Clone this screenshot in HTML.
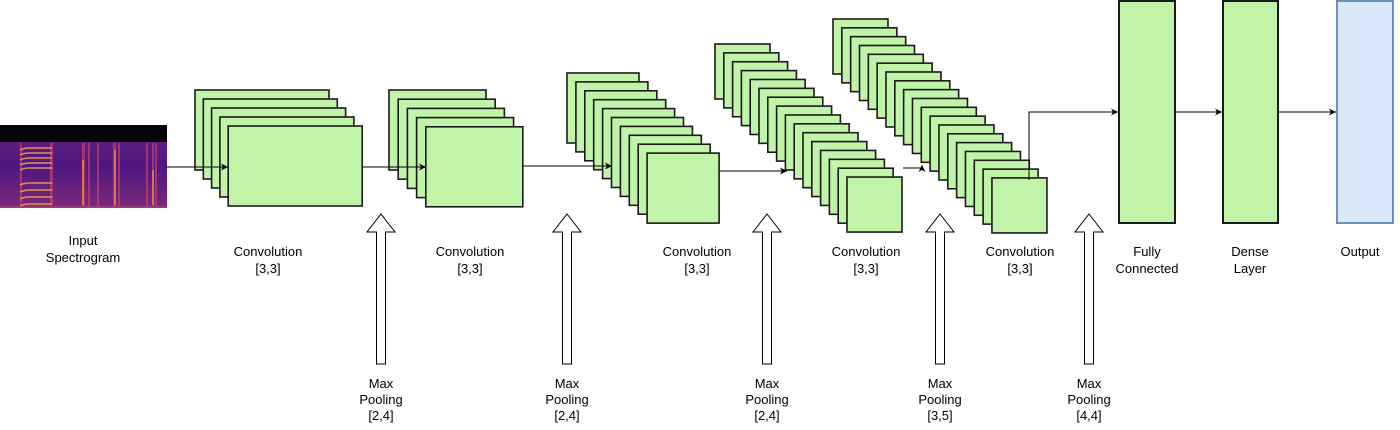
<!DOCTYPE html>
<html><head><meta charset="utf-8">
<style>
body{margin:0;background:#fff;width:1400px;height:425px;overflow:hidden}
svg text{font-family:"Liberation Sans",Arial,sans-serif;font-size:13px;fill:#000;text-anchor:middle}
</style></head>
<body>
<svg id="s" width="1400" height="425" xmlns="http://www.w3.org/2000/svg">
<defs>
<linearGradient id="sp" x1="0" y1="0" x2="0" y2="1">
<stop offset="0" stop-color="#6a2080"/><stop offset="0.5" stop-color="#4e1880"/><stop offset="1" stop-color="#7a2a78"/>
</linearGradient>
<marker id="ah" markerWidth="8" markerHeight="8" refX="7" refY="4" orient="auto" markerUnits="userSpaceOnUse"><path d="M0,0.5 L7,4 L0,7.5 L2,4 Z" fill="#000"/></marker>
</defs>
<!-- spectrogram -->
<rect x="0" y="125" width="167" height="83" fill="url(#sp)"/>
<rect x="0" y="125" width="167" height="17" fill="#05030a"/>
<g id="spec"></g>
<g id="stacks"></g>
<g id="conn" stroke="#000" stroke-width="1" fill="none"></g>
<!-- right blocks -->
<rect x="1119" y="1" width="56" height="222" fill="#c1f4a8" stroke="#1a1a1a" stroke-width="2"/>
<rect x="1223" y="1" width="55" height="222" fill="#c1f4a8" stroke="#1a1a1a" stroke-width="2"/>
<rect x="1337" y="1" width="56" height="222" fill="#dae8fc" stroke="#6c8ebf" stroke-width="2"/>
<g id="arr" fill="#fff" stroke="#000" stroke-width="1"></g>
<text x="83" y="245">Input</text><text x="83" y="262">Spectrogram</text>
<text x="268" y="256">Convolution</text><text x="268" y="273">[3,3]</text>
<text x="470" y="256">Convolution</text><text x="470" y="273">[3,3]</text>
<text x="697" y="256">Convolution</text><text x="697" y="273">[3,3]</text>
<text x="866" y="256">Convolution</text><text x="866" y="273">[3,3]</text>
<text x="1020" y="256">Convolution</text><text x="1020" y="273">[3,3]</text>
<text x="1147" y="256">Fully</text><text x="1147" y="273">Connected</text>
<text x="1250" y="256">Dense</text><text x="1250" y="273">Layer</text>
<text x="1360" y="256">Output</text>
</svg>
<script>
var NS="http://www.w3.org/2000/svg";
function el(p,t,a){var e=document.createElementNS(NS,t);for(var k in a)e.setAttribute(k,a[k]);p.appendChild(e);return e;}
var sp=document.getElementById('spec');
// vertical streaks
[[20,2],[50,3],[82,3],[88,2],[97,2],[113,3],[118,2],[146,2],[152,2],[155,2]].forEach(function(v){el(sp,'rect',{x:v[0],y:143,width:v[1],height:63,fill:'#c0406a',opacity:0.7});});
[[82,160,2,45],[114,150,2,55],[152,170,2,35]].forEach(function(v){el(sp,'rect',{x:v[0],y:v[1],width:v[2],height:v[3],fill:'#f08040',opacity:0.8});});
// harmonics
for(var i=0;i<9;i++){var y=148+i*(i<5?5:7);el(sp,'path',{d:'M20,'+(y+2)+' Q24,'+y+' 30,'+y+' L52,'+y,stroke:'#f39a50','stroke-width':1.5,fill:'none',opacity:0.9});}
el(sp,'rect',{x:0,y:206,width:167,height:2,fill:'#9a3a78'});
// stacks
var st=document.getElementById('stacks');
function stack(x0,y0,w,h,n,dx,dy){for(var i=0;i<n;i++)el(st,'rect',{x:x0+i*dx,y:y0+i*dy,width:w,height:h,fill:'#c1f4a8',stroke:'#1a1a1a','stroke-width':1.6});}
stack(195,90,134,80,5,8.3,9);
stack(389,90,97,80,5,9.2,9.2);
stack(567,73,72,70,10,8.9,8.9);
stack(715,44,55,55,16,8.8,8.87);
stack(833,19,55,55,19,8.83,8.83);
// connectors
var c=document.getElementById('conn');
function ln(d,m){var p=el(c,'path',{d:d});if(m)p.setAttribute('marker-end','url(#ah)');}
ln('M167,167 L228,167',1);
ln('M362,167 L426,167',1);
ln('M523,166 L612,166',1);
ln('M719,171 L787,171',1);
ln('M903,168 L922,168 L922,165',1);
ln('M1029,180 L1029,112 L1118,112',1);
ln('M1175,112 L1222,112',1);
ln('M1278,112 L1336,112',1);
// block arrows + labels
var a=document.getElementById('arr'),svg=document.getElementById('s');
[[381,'[2,4]'],[567,'[2,4]'],[767,'[2,4]'],[940,'[3,5]'],[1089,'[4,4]']].forEach(function(v){var x=v[0];
el(a,'path',{d:'M'+x+',214 L'+(x+14)+',232 L'+(x+4.5)+',232 L'+(x+4.5)+',364 L'+(x-4.5)+',364 L'+(x-4.5)+',232 L'+(x-14)+',232 Z'});
['Max','Pooling',v[1]].forEach(function(t,i){var tx=el(svg,'text',{x:x,y:388+i*16});tx.textContent=t;});});
</script>
</body></html>
